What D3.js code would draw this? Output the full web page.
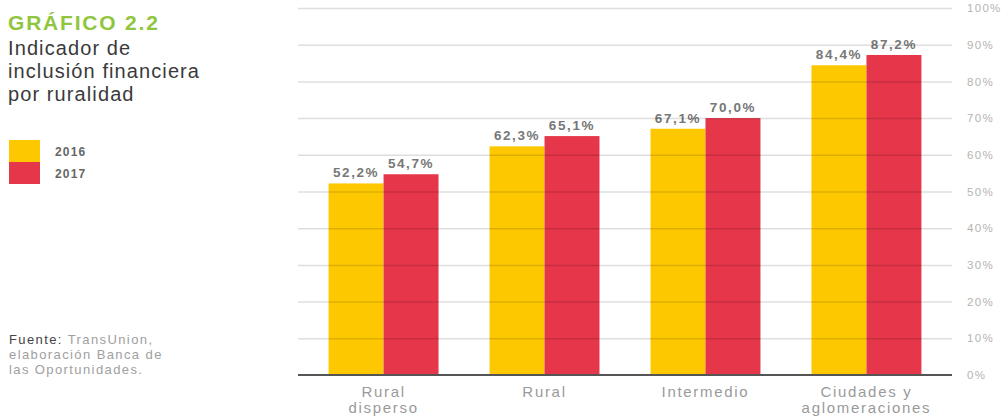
<!DOCTYPE html>
<html lang="es">
<head>
<meta charset="utf-8">
<script src="https://cdn.jsdelivr.net/npm/d3@7"></script>
<style>
  html, body { margin: 0; padding: 0; background: #fff; }
  svg { display: block; font-family: "Liberation Sans", Arial, sans-serif; }
</style>
</head>
<body>
<svg id="chart" width="1002" height="417"></svg>
<script>
// Indicador de inclusión financiera por ruralidad (% de adultos)
const categories = [["Rural", "disperso"], ["Rural"], ["Intermedio"], ["Ciudades y", "aglomeraciones"]];
const seriesNames = ["2016", "2017"];
const values2016 = [52.2, 62.3, 67.1, 84.4];
const values2017 = [54.7, 65.1, 70.0, 87.2];
const yTicks = [0, 10, 20, 30, 40, 50, 60, 70, 80, 90, 100];
const colors = ["#fec800", "#e5364a"];

const svg = d3.select("#chart");
const catKeys = categories.map(c => c.join(" "));
const series = [values2016, values2017];

const x0 = d3.scaleBand().domain(catKeys).range([298, 952]).paddingInner(0.317).paddingOuter(0.19);
const x1 = d3.scaleBand().domain(seriesNames).range([0, x0.bandwidth()]);
const y = d3.scaleLinear().domain([0, 100]).range([375, 8]);

const es = d3.formatLocale({ decimal: ",", thousands: ".", grouping: [3], currency: ["", ""] });
const pct1 = v => es.format(".1f")(v) + "%";

// Bars
const groups = svg.append("g").selectAll("g")
  .data(catKeys)
  .join("g")
  .attr("transform", d => `translate(${x0(d)},0)`);

groups.selectAll("rect")
  .data((d, i) => seriesNames.map((s, j) => ({ s, v: series[j][i] })))
  .join("rect")
  .attr("x", d => x1(d.s))
  .attr("width", x1.bandwidth())
  .attr("y", d => y(d.v))
  .attr("height", d => y(0) - y(d.v))
  .attr("fill", (d, j) => colors[j]);

// Gridlines over the bars, with percentage labels on the right
const yAxis = svg.append("g")
  .attr("transform", "translate(952,0)")
  .call(d3.axisRight(y).tickValues(yTicks).tickSize(-654).tickPadding(15).tickFormat(d => d + "%"));
yAxis.select(".domain").remove();
yAxis.selectAll(".tick line")
  .attr("stroke", "rgba(0,0,0,0.13)")
  .attr("stroke-width", 1.5)
  .attr("display", d => d === 0 ? "none" : null);
yAxis.selectAll(".tick text")
  .attr("fill", "#b4b4b4")
  .style("font-size", "11.5px")
  .style("letter-spacing", "1.3px");

// Baseline
svg.append("line")
  .attr("x1", 298).attr("x2", 952)
  .attr("y1", y(0)).attr("y2", y(0))
  .attr("stroke", "#555").attr("stroke-width", 2);

// Value labels
groups.selectAll("text.val")
  .data((d, i) => seriesNames.map((s, j) => ({ s, v: series[j][i] })))
  .join("text")
  .attr("class", "val")
  .attr("x", d => x1(d.s) + x1.bandwidth() / 2)
  .attr("y", d => y(d.v) - 6)
  .attr("text-anchor", "middle")
  .attr("fill", "#777")
  .style("font-size", "13.5px")
  .style("font-weight", "bold")
  .style("letter-spacing", "1.6px")
  .text(d => pct1(d.v));

// Category labels
const catLabels = svg.append("g").selectAll("text")
  .data(categories)
  .join("text")
  .attr("text-anchor", "middle")
  .attr("fill", "#9a9a9a")
  .style("font-size", "15px")
  .style("letter-spacing", "1.7px")
  .attr("transform", (d, i) => `translate(${x0(catKeys[i]) + x0.bandwidth() / 2},397)`);
catLabels.selectAll("tspan")
  .data(d => d)
  .join("tspan")
  .attr("x", 0)
  .attr("dy", (d, i) => i === 0 ? 0 : 16)
  .text(d => d);

// Title block
svg.append("text")
  .attr("x", 8).attr("y", 30)
  .attr("fill", "#90c63e")
  .style("font-size", "21px")
  .style("font-weight", "bold")
  .style("letter-spacing", "1.8px")
  .text("GRÁFICO 2.2");

const titleLines = ["Indicador de", "inclusión financiera", "por ruralidad"];
svg.append("g").selectAll("text")
  .data(titleLines)
  .join("text")
  .attr("x", 8)
  .attr("y", (d, i) => 55 + i * 23)
  .attr("fill", "#3a3a3a")
  .style("font-size", "20px")
  .style("letter-spacing", "1.1px")
  .text(d => d);

// Legend
const legend = svg.append("g").selectAll("g")
  .data(seriesNames)
  .join("g")
  .attr("transform", (d, i) => `translate(9,${140 + i * 22})`);
legend.append("rect")
  .attr("width", 31).attr("height", 22)
  .attr("fill", (d, i) => colors[i]);
legend.append("text")
  .attr("x", 46).attr("y", 15.5)
  .attr("fill", "#666")
  .style("font-size", "12px")
  .style("font-weight", "bold")
  .style("letter-spacing", "1.2px")
  .text(d => d);

// Source note
const src = svg.append("g");
const srcLines = [
  [{ t: "Fuente: ", c: "#444" }, { t: "TransUnion,", c: "#a0a0a0" }],
  [{ t: "elaboración Banca de", c: "#a0a0a0" }],
  [{ t: "las Oportunidades.", c: "#a0a0a0" }]
];
srcLines.forEach((line, i) => {
  const t = src.append("text")
    .attr("x", 9).attr("y", 344 + i * 15)
    .style("font-size", "13px")
    .style("letter-spacing", "1.4px");
  line.forEach(part => t.append("tspan").attr("fill", part.c).text(part.t));
});
</script>
</body>
</html>
